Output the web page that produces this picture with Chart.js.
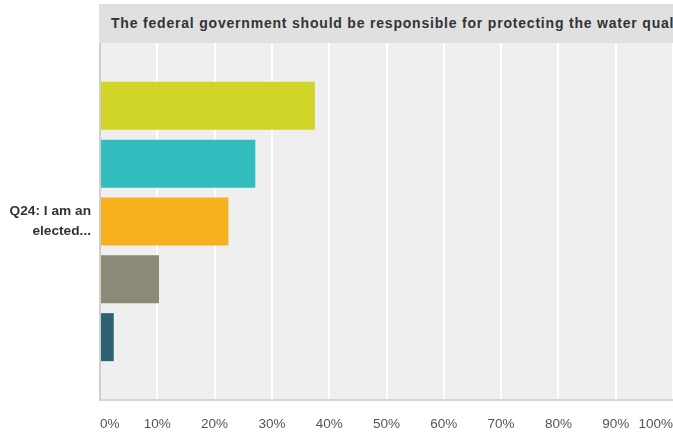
<!DOCTYPE html>
<html>
<head>
<meta charset="utf-8">
<script src="https://cdn.jsdelivr.net/npm/chart.js@4"></script>
<style>
  html, body { margin: 0; padding: 0; background: #fff; overflow: hidden; }
  #wrap { position: relative; width: 673px; height: 432px; overflow: hidden; }
  #title {
    position: absolute; left: 99px; top: 4px; right: 0; height: 39px;
    background: #e0e0e0; color: #333;
    font: bold 14px "Liberation Sans", Arial, sans-serif;
    letter-spacing: 0.8px;
    line-height: 38px; padding-left: 12px;
    white-space: nowrap; overflow: hidden;
  }
</style>
</head>
<body>
<div id="wrap">
  <canvas id="chart" width="673" height="432"></canvas>
  <div id="title">The federal government should be responsible for protecting the water quality of our rivers, lakes and streams.</div>
</div>
<script>
// data
const categories = [["Q24: I am an", "elected..."]];
const answers = ["Strongly agree", "Agree", "Neither agree nor disagree", "Disagree", "Strongly disagree"];
const values = [37.5, 27.1, 22.4, 10.3, 2.4];
const colors = ["#d1d528", "#33bdbf", "#f7b11f", "#8b8a79", "#2f6170"];
const xTicks = [0, 10, 20, 30, 40, 50, 60, 70, 80, 90, 100];

const plotBg = {
  id: "plotBg",
  beforeDraw(chart) {
    const { ctx, chartArea: a } = chart;
    ctx.save();
    ctx.fillStyle = "#efefef";
    ctx.fillRect(a.left, a.top, a.right - a.left, a.bottom - a.top);
    ctx.restore();
  }
};

new Chart(document.getElementById("chart"), {
  type: "bar",
  data: {
    labels: categories,
    datasets: answers.map((name, i) => ({
      label: name,
      data: [values[i]],
      backgroundColor: colors[i],
      categoryPercentage: 0.81,
      barPercentage: 0.83
    }))
  },
  options: {
    indexAxis: "y",
    responsive: false,
    animation: false,
    layout: { padding: { top: 43, right: 0, left: 0, bottom: 0 } },
    plugins: {
      legend: { display: false },
      tooltip: { enabled: false }
    },
    scales: {
      x: {
        min: 0,
        max: 100,
        afterBuildTicks: (s) => { s.ticks = xTicks.map(v => ({ value: v })); },
        afterFit: (s) => { s.height = 32; s.paddingRight = 0; s.paddingLeft = 0; },
        grid: { color: "#ffffff", lineWidth: 2, drawTicks: false },
        border: { color: "#d6d6d6", width: 2 },
        ticks: {
          align: "inner",
          padding: 16,
          maxRotation: 0,
          color: "#555",
          font: { family: "'Liberation Sans', Arial, sans-serif", size: 13.5 },
          callback: (v) => v + "%"
        }
      },
      y: {
        afterFit: (s) => { s.width = 100; },
        grid: { display: false, drawTicks: false },
        border: { color: "#cfcfcf", width: 2 },
        ticks: {
          padding: 9,
          color: "#333",
          font: { family: "'Liberation Sans', Arial, sans-serif", size: 13.7, weight: "bold", lineHeight: 1.45 }
        }
      }
    }
  },
  plugins: [plotBg]
});
</script>
</body>
</html>
